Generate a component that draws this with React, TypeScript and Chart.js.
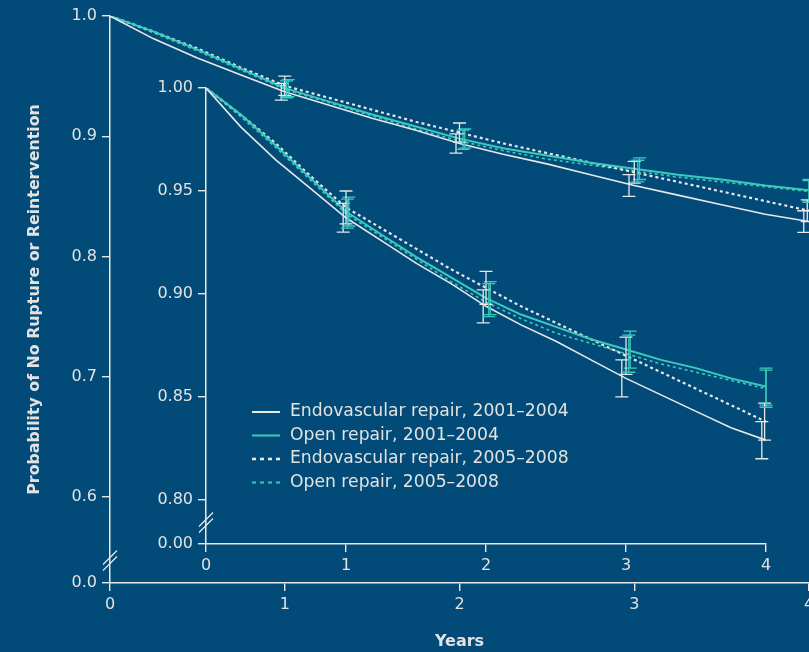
import React, { useEffect, useRef } from "react";
import { Chart, registerables } from "chart.js";

Chart.register(...registerables);

// ---------------- data ----------------
const years = [0, 0.25, 0.5, 0.75, 1, 1.25, 1.5, 1.75, 2, 2.25, 2.5, 2.75, 3, 3.25, 3.5, 3.75, 4];
const endo0104 = [1.0, 0.981, 0.965, 0.951, 0.937, 0.926, 0.915, 0.905, 0.894, 0.885, 0.877, 0.868, 0.859, 0.851, 0.843, 0.835, 0.829];
const open0104 = [1.0, 0.987, 0.972, 0.956, 0.940, 0.929, 0.918, 0.908, 0.898, 0.890, 0.884, 0.878, 0.873, 0.868, 0.864, 0.859, 0.855];
const endo0508 = [1.0, 0.987, 0.973, 0.957, 0.942, 0.932, 0.922, 0.912, 0.903, 0.894, 0.886, 0.878, 0.870, 0.862, 0.854, 0.846, 0.838];
const open0508 = [1.0, 0.986, 0.971, 0.955, 0.939, 0.928, 0.917, 0.906, 0.896, 0.888, 0.881, 0.876, 0.871, 0.866, 0.862, 0.858, 0.854];

// error bars (time, lower, upper)
const endo0104ErrT = [0.98, 1.98, 2.97, 3.97];
const endo0104ErrLo = [0.930, 0.886, 0.850, 0.820];
const endo0104ErrHi = [0.944, 0.902, 0.868, 0.838];
const open0104ErrT = [1.02, 2.03, 3.03, 4.0];
const open0104ErrLo = [0.933, 0.890, 0.864, 0.846];
const open0104ErrHi = [0.947, 0.906, 0.882, 0.864];
const endo0508ErrT = [1.0, 2.0, 3.0, 3.99];
const endo0508ErrLo = [0.934, 0.895, 0.861, 0.829];
const endo0508ErrHi = [0.950, 0.911, 0.879, 0.847];
const open0508ErrT = [1.01, 2.02, 3.02, 4.0];
const open0508ErrLo = [0.932, 0.889, 0.862, 0.845];
const open0508ErrHi = [0.946, 0.905, 0.880, 0.863];

const seriesLabels = [
  "Endovascular repair, 2001\u20132004",
  "Open repair, 2001\u20132004",
  "Endovascular repair, 2005\u20132008",
  "Open repair, 2005\u20132008",
];

const xTickValues = [0, 1, 2, 3, 4];
const xTickLabels = ["0", "1", "2", "3", "4"];
const mainYTickValues = [0.5283, 0.6, 0.7, 0.8, 0.9, 1.0];
const mainYTickLabels = ["0.0", "0.6", "0.7", "0.8", "0.9", "1.0"];
const mainYBreak = 0.547;
const insetYTickValues = [0.7786, 0.8, 0.85, 0.9, 0.95, 1.0];
const insetYTickLabels = ["0.00", "0.80", "0.85", "0.90", "0.95", "1.00"];
const insetYBreak = 0.789;

const yTitle = "Probability of No Rupture or Reintervention";
const xTitle = "Years";

// ---------------- styles ----------------
const BG = "#024a77";
const WHITE = "#e8e8e8";
const TEAL = "#3ccabf";
const TEXT = "#e2e2e2";
const FONT = "DejaVu Sans";

const styles = [
  { color: WHITE, width: 1.6, dash: [] as number[] },
  { color: TEAL, width: 2, dash: [] as number[] },
  { color: WHITE, width: 2.2, dash: [3, 3] },
  { color: TEAL, width: 1.6, dash: [3, 3] },
];
const seriesData = [endo0104, open0104, endo0508, open0508];
const errT = [endo0104ErrT, open0104ErrT, endo0508ErrT, open0508ErrT];
const errLo = [endo0104ErrLo, open0104ErrLo, endo0508ErrLo, open0508ErrLo];
const errHi = [endo0104ErrHi, open0104ErrHi, endo0508ErrHi, open0508ErrHi];

function makeDatasets() {
  return seriesData.map((arr, i) => ({
    label: seriesLabels[i],
    data: years.map((x, j) => ({ x, y: arr[j] })),
    borderColor: styles[i].color,
    borderWidth: styles[i].width,
    borderDash: styles[i].dash,
    pointRadius: 0,
    fill: false,
    tension: 0,
  }));
}

const errorBarPlugin = {
  id: "errorBars",
  afterDatasetsDraw(chart: any) {
    const ctx = chart.ctx;
    const xs = chart.scales.x;
    const ys = chart.scales.y;
    ctx.save();
    for (let s = 0; s < 4; s++) {
      ctx.strokeStyle = styles[s].color;
      ctx.lineWidth = 1.3;
      ctx.setLineDash([]);
      for (let k = 0; k < errT[s].length; k++) {
        const x = xs.getPixelForValue(errT[s][k]);
        const y1 = ys.getPixelForValue(errLo[s][k]);
        const y2 = ys.getPixelForValue(errHi[s][k]);
        ctx.beginPath();
        ctx.moveTo(x, y1);
        ctx.lineTo(x, y2);
        ctx.moveTo(x - 6.5, y1);
        ctx.lineTo(x + 6.5, y1);
        ctx.moveTo(x - 6.5, y2);
        ctx.lineTo(x + 6.5, y2);
        ctx.stroke();
      }
    }
    ctx.restore();
  },
};

function breakPlugin(value: number) {
  return {
    id: "axisBreak",
    afterDraw(chart: any) {
      const ctx = chart.ctx;
      const x = chart.chartArea.left;
      const y = chart.scales.y.getPixelForValue(value);
      ctx.save();
      ctx.strokeStyle = WHITE;
      ctx.lineWidth = 1.3;
      for (const off of [-3, 3]) {
        ctx.beginPath();
        ctx.moveTo(x - 7, y + 7 + off);
        ctx.lineTo(x + 7, y - 7 + off);
        ctx.stroke();
      }
      ctx.restore();
    },
  };
}

const legendPlugin = {
  id: "customLegend",
  afterDraw(chart: any) {
    const ctx = chart.ctx;
    const left = chart.chartArea.left + 46;
    const top = chart.chartArea.top + 324;
    ctx.save();
    for (let i = 0; i < 4; i++) {
      const y = top + i * 23.5;
      ctx.strokeStyle = styles[i].color;
      ctx.lineWidth = i === 2 ? 2.6 : 2;
      ctx.setLineDash(styles[i].dash.length ? [4, 4] : []);
      ctx.beginPath();
      ctx.moveTo(left, y);
      ctx.lineTo(left + 28, y);
      ctx.stroke();
      ctx.setLineDash([]);
      ctx.fillStyle = TEXT;
      ctx.font = `17.2px "${FONT}"`;
      ctx.textBaseline = "middle";
      ctx.textAlign = "left";
      ctx.fillText(seriesLabels[i], left + 38, y);
    }
    ctx.restore();
  },
};

function axisCommon() {
  return {
    grid: {
      display: true,
      drawOnChartArea: false,
      drawTicks: true,
      tickLength: 8,
      color: WHITE,
      lineWidth: 1.4,
    },
    border: { display: true, color: WHITE, width: 1.5 },
  };
}

function buildConfig(opts: {
  yTicks: number[];
  yLabels: string[];
  yWidth: number;
  xHeight: number;
  padTop: number;
  padRight: number;
  withTitles: boolean;
  plugins: any[];
}) {
  return {
    type: "line" as const,
    data: { datasets: makeDatasets() },
    options: {
      responsive: false,
      animation: false as const,
      layout: { padding: { top: opts.padTop, right: opts.padRight, left: 0, bottom: 0 } },
      plugins: { legend: { display: false }, tooltip: { enabled: false } },
      scales: {
        x: {
          type: "linear" as const,
          min: 0,
          max: 4,
          ...axisCommon(),
          afterBuildTicks: (s: any) => {
            s.ticks = xTickValues.map((v) => ({ value: v }));
          },
          afterFit: (s: any) => {
            s.height = opts.xHeight;
            s.paddingLeft = 0;
            s.paddingRight = 0;
          },
          ticks: {
            autoSkip: false,
            maxRotation: 0,
            padding: 4,
            color: TEXT,
            font: { family: FONT, size: 16 },
            callback: (_v: any, i: number) => xTickLabels[i],
          },
          title: {
            display: opts.withTitles,
            text: xTitle,
            color: TEXT,
            font: { family: FONT, size: 16, weight: "bold" as const },
            padding: { top: 0, bottom: 1 },
          },
        },
        y: {
          type: "linear" as const,
          min: opts.yTicks[0],
          max: 1.0,
          ...axisCommon(),
          afterBuildTicks: (s: any) => {
            s.ticks = opts.yTicks.map((v) => ({ value: v }));
          },
          afterFit: (s: any) => {
            s.width = opts.yWidth;
            s.paddingTop = 0;
            s.paddingBottom = 0;
          },
          ticks: {
            autoSkip: false,
            padding: 5,
            color: TEXT,
            font: { family: FONT, size: 16 },
            callback: (_v: any, i: number) => opts.yLabels[i],
          },
          title: {
            display: opts.withTitles,
            text: yTitle,
            color: TEXT,
            font: { family: FONT, size: 15.8, weight: "bold" as const },
            padding: { top: 25, bottom: 0 },
          },
        },
      },
    },
    plugins: opts.plugins,
  };
}

export default function App() {
  const mainRef = useRef<HTMLCanvasElement | null>(null);
  const insetRef = useRef<HTMLCanvasElement | null>(null);

  useEffect(() => {
    document.body.style.margin = "0";
    const main = new Chart(
      mainRef.current as HTMLCanvasElement,
      buildConfig({
        yTicks: mainYTickValues,
        yLabels: mainYTickLabels,
        yWidth: 110,
        xHeight: 69,
        padTop: 16,
        padRight: 0,
        withTitles: true,
        plugins: [errorBarPlugin, breakPlugin(mainYBreak)],
      }) as any
    );
    const inset = new Chart(
      insetRef.current as HTMLCanvasElement,
      buildConfig({
        yTicks: insetYTickValues,
        yLabels: insetYTickLabels,
        yWidth: 206,
        xHeight: 108,
        padTop: 88,
        padRight: 43,
        withTitles: false,
        plugins: [errorBarPlugin, breakPlugin(insetYBreak), legendPlugin],
      }) as any
    );
    return () => {
      main.destroy();
      inset.destroy();
    };
  }, []);

  return (
    <div style={{ position: "relative", width: 809, height: 652, background: BG, overflow: "hidden" }}>
      <canvas ref={mainRef} width={809} height={652} style={{ position: "absolute", left: 0, top: 0 }} />
      <canvas ref={insetRef} width={809} height={652} style={{ position: "absolute", left: 0, top: 0 }} />
    </div>
  );
}
